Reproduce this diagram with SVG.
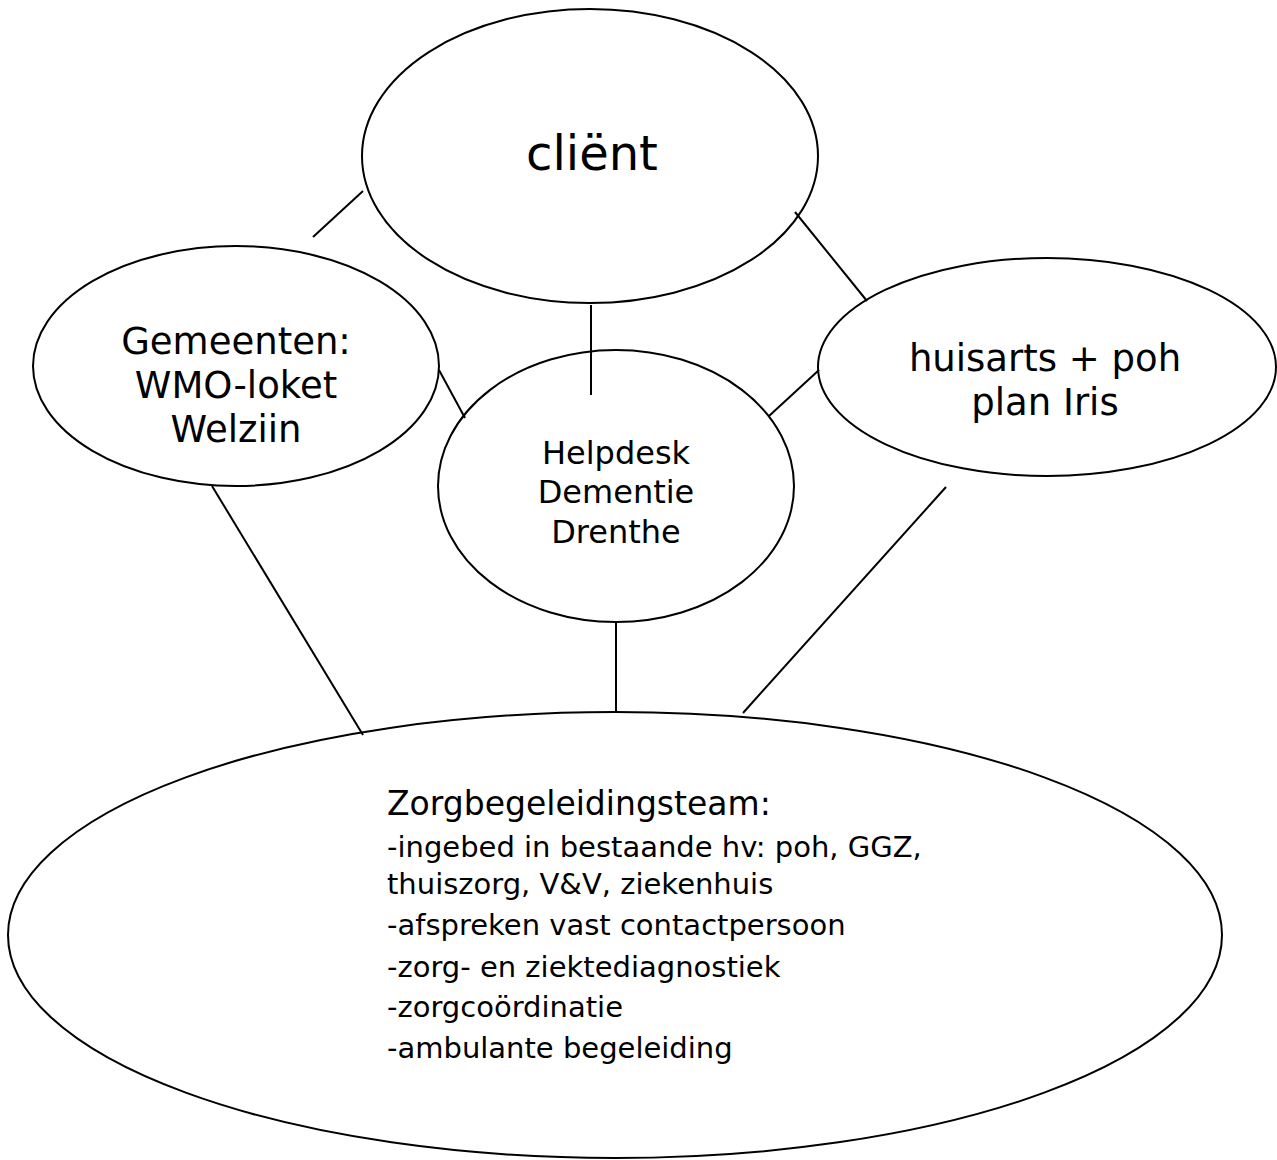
<svg xmlns="http://www.w3.org/2000/svg" width="1277" height="1160" viewBox="0 0 1277 1160">
<style>
.n{fill:#fff;stroke:#000;stroke-width:2}
.c line{stroke:#000;stroke-width:2}
text{font-family:"DejaVu Sans","Liberation Sans",sans-serif;fill:#000}
.m{text-anchor:middle}
</style>
<rect width="1277" height="1160" fill="#fff"/>
<g id="connectors" class="c">
<line x1="313" y1="237" x2="363" y2="191"/>
<line x1="591" y1="305" x2="591" y2="395"/>
<line x1="795" y1="212" x2="867" y2="301"/>
<line x1="439" y1="370" x2="465" y2="418"/>
<line x1="819" y1="370" x2="769" y2="416"/>
<line x1="212" y1="486" x2="363" y2="735"/>
<line x1="616" y1="622" x2="616" y2="712"/>
<line x1="946" y1="487" x2="743" y2="713"/>
</g>
<g id="client">
<ellipse class="n" cx="590" cy="156" rx="228" ry="147" fill="none" style="fill:none"/>
<text class="m" x="592" y="170" font-size="48">cliënt</text>
</g>
<g id="gemeenten">
<ellipse class="n" cx="236" cy="366" rx="203" ry="120" style="fill:none"/>
<text class="m" x="236" y="354" font-size="37">Gemeenten:</text>
<text class="m" x="236" y="398" font-size="37">WMO-loket</text>
<text class="m" x="236" y="442" font-size="37">Welziin</text>
</g>
<g id="helpdesk">
<ellipse class="n" cx="616" cy="486" rx="178" ry="136" style="fill:none"/>
<text class="m" x="616" y="464" font-size="32">Helpdesk</text>
<text class="m" x="616" y="503" font-size="32">Dementie</text>
<text class="m" x="616" y="543" font-size="32">Drenthe</text>
</g>
<g id="huisarts">
<ellipse class="n" cx="1047" cy="367" rx="229" ry="109" style="fill:none"/>
<text class="m" x="1045" y="371" font-size="37">huisarts + poh</text>
<text class="m" x="1045" y="415" font-size="37">plan Iris</text>
</g>
<g id="zorgbegeleidingsteam">
<ellipse class="n" cx="615" cy="935" rx="607" ry="223" style="fill:none"/>
<text x="387" y="815" font-size="33">Zorgbegeleidingsteam:</text>
<text x="387" y="857" font-size="29">-ingebed in bestaande hv: poh, GGZ,</text>
<text x="387" y="894" font-size="29">thuiszorg, V&amp;V, ziekenhuis</text>
<text x="387" y="935" font-size="29">-afspreken vast contactpersoon</text>
<text x="387" y="977" font-size="29">-zorg- en ziektediagnostiek</text>
<text x="387" y="1017" font-size="29">-zorgcoördinatie</text>
<text x="387" y="1058" font-size="29">-ambulante begeleiding</text>
</g>
</svg>
